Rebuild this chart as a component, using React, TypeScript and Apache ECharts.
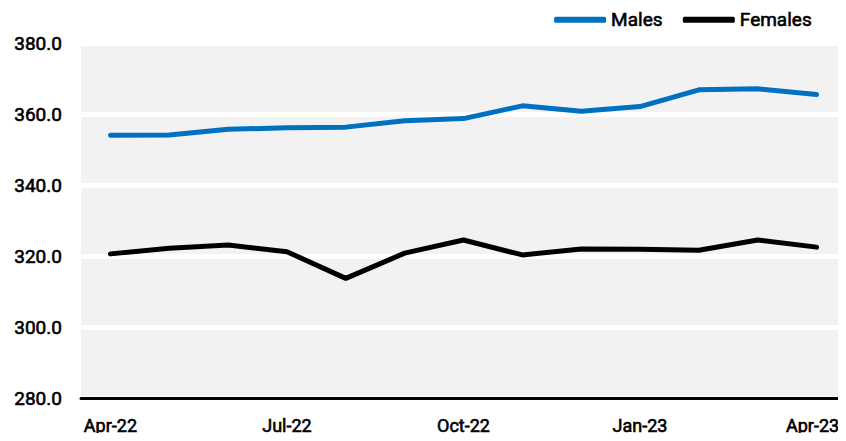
import React, { useEffect, useRef } from "react";
import * as echarts from "echarts";

const categories = [
  "Apr-22", "May-22", "Jun-22", "Jul-22", "Aug-22", "Sep-22", "Oct-22",
  "Nov-22", "Dec-22", "Jan-23", "Feb-23", "Mar-23", "Apr-23",
];
const males = [354.0, 354.1, 355.7, 356.1, 356.3, 358.1, 358.7, 362.3, 360.8, 362.1, 366.8, 367.1, 365.5];
const females = [320.6, 322.2, 323.1, 321.2, 313.7, 320.8, 324.5, 320.3, 322.0, 321.9, 321.6, 324.5, 322.5];
const yTicks = { min: 280, max: 380, interval: 20 };

const FONT = "Roboto, 'DejaVu Sans', sans-serif";
const labelStyle = {
  color: "#000",
  fontSize: 19,
  fontFamily: FONT,
  textBorderColor: "#000",
  textBorderWidth: 0.6,
};

export default function App() {
  const ref = useRef<HTMLDivElement>(null);
  useEffect(() => {
    if (!ref.current) return;
    const chart = echarts.init(ref.current, undefined, { renderer: "svg" });
    const lastCat = categories[categories.length - 1];
    chart.setOption({
      animation: false,
      textStyle: { fontFamily: FONT },
      graphic: [
        {
          type: "text",
          left: 22,
          top: -17,
          style: { text: "(thousands)", font: `20px ${FONT}`, fill: "#7f7f7f" },
        },
      ],
      legend: {
        right: 29,
        top: 5,
        icon: "roundRect",
        itemWidth: 52,
        itemHeight: 6,
        itemGap: 20,
        textStyle: { ...labelStyle },
        data: ["Males", "Females"],
      },
      grid: {
        left: 81,
        right: 0,
        top: 43,
        height: 355,
        show: true,
        backgroundColor: "#f2f2f2",
        borderWidth: 0,
      },
      xAxis: {
        type: "category",
        data: categories,
        boundaryGap: true,
        axisLine: { show: true, lineStyle: { color: "#000", width: 3 } },
        axisTick: { show: false },
        axisLabel: {
          ...labelStyle,
          fontSize: 18,
          interval: 2,
          margin: 18,
          formatter: (v: string) => (v === lastCat ? `{r|${v}}` : v),
          rich: {
            r: {
              fontSize: 18,
              fontFamily: FONT,
              color: "#000",
              textBorderColor: "#000",
              textBorderWidth: 0.6,
              padding: [0, 8, 0, 0],
            },
          },
        },
      },
      yAxis: {
        type: "value",
        min: yTicks.min,
        max: yTicks.max,
        interval: yTicks.interval,
        axisLine: { show: false },
        axisTick: { show: false },
        axisLabel: {
          ...labelStyle,
          margin: 19,
          formatter: (v: number) => v.toFixed(1),
        },
        splitLine: { show: true, lineStyle: { color: "#ffffff", width: 5 } },
      },
      series: [
        {
          name: "Males",
          type: "line",
          data: males,
          symbol: "none",
          lineStyle: { color: "#0070c0", width: 5, cap: "round", join: "round" },
          itemStyle: { color: "#0070c0" },
        },
        {
          name: "Females",
          type: "line",
          data: females,
          symbol: "none",
          lineStyle: { color: "#000000", width: 5, cap: "round", join: "round" },
          itemStyle: { color: "#000000" },
        },
      ],
    });
    return () => chart.dispose();
  }, []);
  return <div ref={ref} style={{ width: 846, height: 441, margin: -8 }} />;
}
